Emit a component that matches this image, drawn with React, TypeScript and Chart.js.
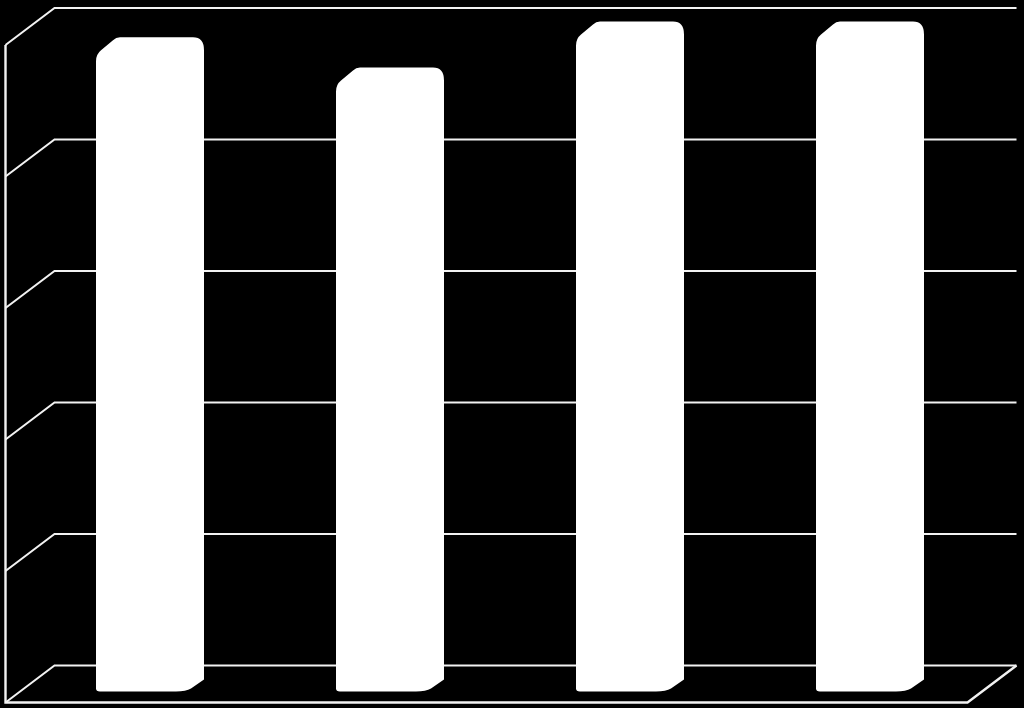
import { useEffect, useRef } from 'react';
import { Chart, registerables } from 'chart.js';
import type { Plugin } from 'chart.js';

Chart.register(...registerables);

const categories = ['1', '2', '3', '4'];
const values = [4.85, 4.62, 4.97, 4.97];
const gridTicks = [0, 1, 2, 3, 4, 5];

const lineColor = '#f2f2f2';
const depthX = 24.5;
const depthY = 18.5;
const wallExtra = 2;

// the chart area is the middle plane of the fake 3d box, walls sit behind it
const walls: Plugin<'bar'> = {
  id: 'walls',
  beforeDatasetsDraw(chart) {
    const { ctx, chartArea, scales } = chart;
    const backLeft = chartArea.left + depthX;
    const backRight = chartArea.right + depthX + wallExtra;
    const frontLeft = chartArea.left - depthX;
    const frontRight = chartArea.right - depthX + wallExtra;
    const y0 = scales.y.getPixelForValue(0);
    const yTop = scales.y.getPixelForValue(gridTicks[gridTicks.length - 1]);

    ctx.save();
    ctx.strokeStyle = lineColor;
    ctx.lineWidth = 2;
    gridTicks.forEach((t) => {
      const y = scales.y.getPixelForValue(t);
      ctx.beginPath();
      ctx.moveTo(frontLeft, y + depthY);
      ctx.lineTo(backLeft, y - depthY);
      ctx.lineTo(backRight, y - depthY);
      ctx.stroke();
    });
    ctx.lineWidth = 2.4;
    ctx.beginPath();
    ctx.moveTo(frontLeft, yTop + depthY);
    ctx.lineTo(frontLeft, y0 + depthY);
    ctx.lineTo(frontRight, y0 + depthY);
    ctx.lineTo(backRight, y0 - depthY);
    ctx.stroke();
    ctx.restore();
  },
};

// white silhouette of an extruded bar with soft corners
const softBars: Plugin<'bar'> = {
  id: 'softBars',
  beforeDatasetDraw(chart, args) {
    const { ctx } = chart;
    ctx.save();
    ctx.fillStyle = '#ffffff';
    chart.getDatasetMeta(args.index).data.forEach((el) => {
      const { x, y, base, width } = el.getProps(['x', 'y', 'base', 'width'], true) as unknown as {
        x: number; y: number; base: number; width: number;
      };
      const l = x - width / 2;
      const r = x + width / 2;
      const t = y - 9;
      const b = base + 7.5;
      ctx.beginPath();
      ctx.moveTo(l, t + 24);
      ctx.quadraticCurveTo(l, t + 17, l + 5, t + 13);
      ctx.lineTo(l + 17, t + 3);
      ctx.quadraticCurveTo(l + 20, t, l + 24, t);
      ctx.lineTo(r - 11, t);
      ctx.quadraticCurveTo(r, t, r, t + 13);
      ctx.lineTo(r, b - 12);
      ctx.lineTo(r - 13, b - 3);
      ctx.quadraticCurveTo(r - 18, b, r - 28, b);
      ctx.lineTo(l + 4, b);
      ctx.quadraticCurveTo(l, b, l, b - 3);
      ctx.closePath();
      ctx.fill();
    });
    ctx.restore();
    return false;
  },
};

export default function App() {
  const ref = useRef<HTMLCanvasElement>(null);

  useEffect(() => {
    if (!ref.current) return;
    const chart = new Chart(ref.current, {
      type: 'bar',
      data: {
        labels: categories,
        datasets: [{
          data: values,
          backgroundColor: '#ffffff',
          categoryPercentage: 1,
          barPercentage: 108 / 240,
        }],
      },
      options: {
        responsive: false,
        animation: false,
        layout: { padding: { left: 30, right: 34, top: 26.5, bottom: 24 } },
        plugins: { legend: { display: false }, tooltip: { enabled: false } },
        scales: {
          x: { display: false },
          y: { display: false, min: 0, max: 5 },
        },
      },
      plugins: [walls, softBars],
    });
    return () => chart.destroy();
  }, []);

  return (
    <div style={{ position: 'absolute', left: 0, top: 0, width: 1024, height: 708, background: '#000' }}>
      <canvas ref={ref} width={1024} height={708} style={{ display: 'block' }} />
    </div>
  );
}
